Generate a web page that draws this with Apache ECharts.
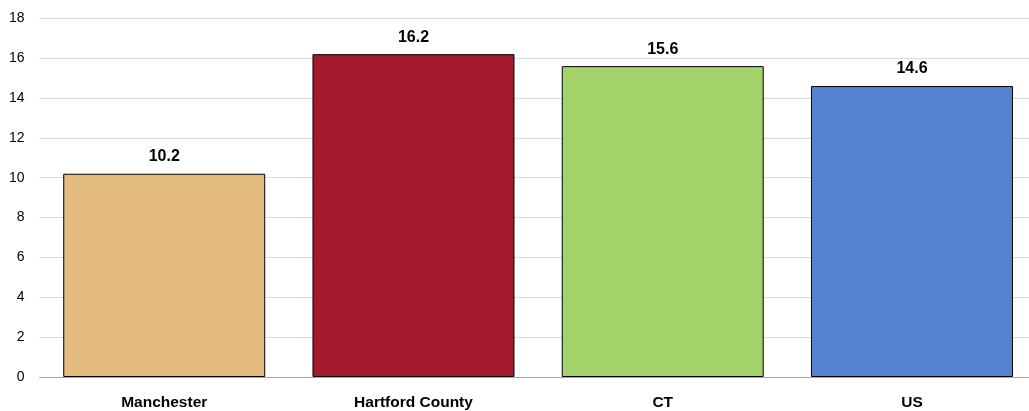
<!DOCTYPE html>
<html>
<head>
<meta charset="utf-8">
<script src="https://cdn.jsdelivr.net/npm/echarts@6/dist/echarts.min.js"></script>
<style>
html,body{margin:0;padding:0;background:#fff;overflow:hidden;width:1029px;height:411px;}
#c{width:1037px;height:411px;}
</style>
</head>
<body>
<div id="c"></div>
<script>
const categories = ['Manchester', 'Hartford County', 'CT', 'US'];
const values = [10.2, 16.2, 15.6, 14.6];
const barColors = ['#E4BC80', '#A31A2E', '#A3D26A', '#5782D2'];
const yTicks = [0, 2, 4, 6, 8, 10, 12, 14, 16, 18];

const FONT = "'Liberation Sans', Arial, sans-serif";
const chart = echarts.init(document.getElementById('c'), null, {renderer: 'canvas'});
chart.setOption({
  animation: false,
  grid: {left: 39.6, right: 0.4, top: 18.3, height: 359, containLabel: false},
  xAxis: {
    type: 'category',
    data: categories,
    axisLine: {show: true, lineStyle: {color: '#A6A6A6', width: 1}},
    axisTick: {show: false},
    axisLabel: {
      color: '#000', fontFamily: FONT, fontWeight: 'bold', fontSize: 15.5, margin: 18
    }
  },
  yAxis: {
    type: 'value',
    min: yTicks[0],
    max: yTicks[yTicks.length - 1],
    interval: 2,
    axisLine: {show: false},
    axisTick: {show: false},
    splitLine: {lineStyle: {color: '#DADADA', width: 1}},
    axisLabel: {color: '#000', fontFamily: FONT, fontSize: 14, margin: 15}
  },
  series: [{
    type: 'bar',
    barWidth: 202,
    data: values.map((v, i) => ({
      value: v,
      itemStyle: {color: barColors[i], borderColor: '#000', borderWidth: 1}
    })),
    label: {
      show: true, position: 'top', distance: 9,
      color: '#000', fontFamily: FONT, fontWeight: 'bold', fontSize: 16,
      formatter: p => p.value.toFixed(1)
    }
  }]
});
</script>
</body>
</html>
